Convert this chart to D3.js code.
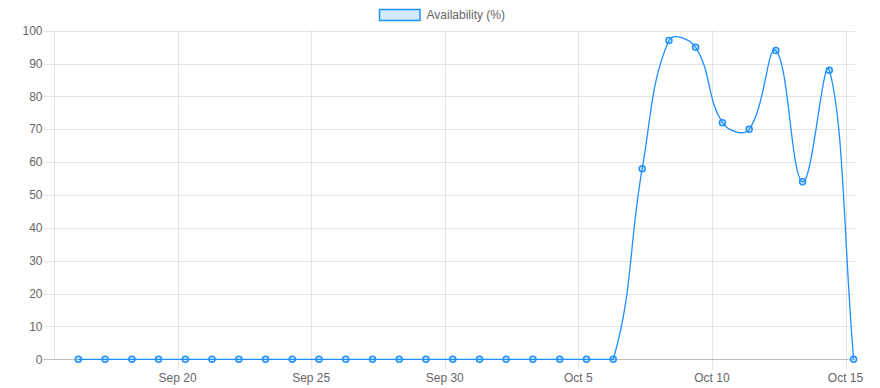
<!DOCTYPE html>
<html>
<head>
<meta charset="utf-8">
<script src="https://cdn.jsdelivr.net/npm/d3@7"></script>
<style>
  body { margin: 0; background: #fff; }
  text { font-family: "Liberation Sans", Arial, sans-serif; font-size: 12px; fill: #666; }
</style>
</head>
<body>
<svg id="grafica"></svg>
<script>
// Disponibilidad diaria (%), hora aproximada de cada medición
const momentos = ["2023-09-16 06:50","2023-09-17 06:50","2023-09-18 06:55","2023-09-19 06:55",
  "2023-09-20 06:55","2023-09-21 06:55","2023-09-22 07:00","2023-09-23 07:00","2023-09-24 07:00",
  "2023-09-25 07:00","2023-09-26 07:05","2023-09-27 07:05","2023-09-28 07:05","2023-09-29 07:05",
  "2023-09-30 07:10","2023-10-01 07:10","2023-10-02 07:10","2023-10-03 07:10","2023-10-04 07:15",
  "2023-10-05 07:15","2023-10-06 07:20","2023-10-07 09:20","2023-10-08 09:20","2023-10-09 09:20",
  "2023-10-10 09:25","2023-10-11 09:25","2023-10-12 09:25","2023-10-13 09:25","2023-10-14 09:25",
  "2023-10-15 07:15"];
const disponibilidad = [0,0,0,0,0,0,0,0,0,0,0,0,0,0,0,0,0,0,0,0,0,58,97,95,72,70,94,54,88,0];
const y_ticks = [0,10,20,30,40,50,60,70,80,90,100];
const x_ticks = ["2023-09-20 00:00","2023-09-25 00:00","2023-09-30 00:00","2023-10-05 00:00","2023-10-10 00:00","2023-10-15 00:00"];
const x_limites = ["2023-09-15 08:30","2023-10-15 08:30"];
const etiqueta = "Availability (%)";

const svg_w = 880;
const svg_h = 388;
const margin = {l:53.5, r:25, t:30.7, b:28.7};
const viz_w = svg_w - margin.l - margin.r;
const viz_h = svg_h - margin.t - margin.b;

const color = "#1e90ff";
const relleno = "rgba(30,144,255,0.2)";
const grid = "rgba(0,0,0,0.1)";

const parse = d3.timeParse("%Y-%m-%d %H:%M");
const datos = momentos.map((d,i) => ({t: parse(d), v: disponibilidad[i]}));

let svg = d3.select("#grafica")
  .attr("width", svg_w)
  .attr("height", svg_h);

let x_scale = d3.scaleTime()
  .domain(x_limites.map(parse))
  .range([margin.l, margin.l + viz_w]);

let y_scale = d3.scaleLinear()
  .domain([0,100])
  .range([margin.t + viz_h, margin.t]);

// rejilla horizontal
svg.append("g")
  .selectAll("line")
  .data(y_ticks)
  .enter().append("line")
  .attr("x1", margin.l - 10)
  .attr("x2", margin.l + viz_w)
  .attr("y1", d => Math.round(y_scale(d)) + 0.5)
  .attr("y2", d => Math.round(y_scale(d)) + 0.5)
  .attr("stroke", d => d == 0 ? "rgba(0,0,0,0.25)" : grid);

// rejilla vertical
svg.append("g")
  .selectAll("line")
  .data(x_ticks)
  .enter().append("line")
  .attr("x1", d => Math.round(x_scale(parse(d))) + 0.5)
  .attr("x2", d => Math.round(x_scale(parse(d))) + 0.5)
  .attr("y1", margin.t)
  .attr("y2", margin.t + viz_h + 10)
  .attr("stroke", grid);

// borde izquierdo
svg.append("line")
  .attr("x1", Math.round(margin.l) + 0.5)
  .attr("x2", Math.round(margin.l) + 0.5)
  .attr("y1", margin.t)
  .attr("y2", margin.t + viz_h)
  .attr("stroke", grid);

// etiquetas
svg.append("g")
  .selectAll("text")
  .data(y_ticks)
  .enter().append("text")
  .attr("x", margin.l - 11)
  .attr("y", d => y_scale(d))
  .attr("dy", "0.35em")
  .attr("text-anchor", "end")
  .text(d => d);

svg.append("g")
  .selectAll("text")
  .data(x_ticks)
  .enter().append("text")
  .attr("x", d => x_scale(parse(d)))
  .attr("y", margin.t + viz_h + 18)
  .attr("dy", "0.35em")
  .attr("text-anchor", "middle")
  .text(d => d3.timeFormat("%b %-d")(parse(d)));

// curva tipo Chart.js (tensión 0.4)
let pts = datos.map(d => ({x: x_scale(d.t), y: y_scale(d.v)}));
const tension = 0.4;
const cap = (v,a,b) => Math.max(a, Math.min(b, v));
pts.forEach((p,i) => {
  let p0 = pts[i-1] || p;
  let p2 = pts[i+1] || p;
  let d01 = Math.hypot(p.x-p0.x, p.y-p0.y);
  let d12 = Math.hypot(p2.x-p.x, p2.y-p.y);
  let s01 = d01/(d01+d12) || 0;
  let s12 = d12/(d01+d12) || 0;
  let fa = tension*s01, fb = tension*s12;
  p.cpx1 = cap(p.x - fa*(p2.x-p0.x), margin.l, margin.l+viz_w);
  p.cpy1 = cap(p.y - fa*(p2.y-p0.y), margin.t, margin.t+viz_h);
  p.cpx2 = cap(p.x + fb*(p2.x-p0.x), margin.l, margin.l+viz_w);
  p.cpy2 = cap(p.y + fb*(p2.y-p0.y), margin.t, margin.t+viz_h);
});
let path = d3.path();
path.moveTo(pts[0].x, pts[0].y);
for (let i = 1; i < pts.length; i++) {
  path.bezierCurveTo(pts[i-1].cpx2, pts[i-1].cpy2, pts[i].cpx1, pts[i].cpy1, pts[i].x, pts[i].y);
}
svg.append("path")
  .attr("d", path.toString())
  .attr("fill", "none")
  .attr("stroke", color)
  .attr("stroke-width", 1.3);

svg.append("g")
  .selectAll("circle")
  .data(datos)
  .enter().append("circle")
  .attr("cx", d => x_scale(d.t))
  .attr("cy", d => y_scale(d.v))
  .attr("r", 3)
  .attr("fill", relleno)
  .attr("stroke", color)
  .attr("stroke-width", 1.5);

// leyenda
let leyenda = svg.append("g");
let txt = leyenda.append("text")
  .attr("y", 15)
  .attr("dy", "0.35em")
  .text(etiqueta);
let tw = txt.node().getComputedTextLength();
let lx = Math.round((svg_w - (46 + tw)) / 2) + 1.5;
leyenda.append("rect")
  .attr("x", lx)
  .attr("y", 9.5)
  .attr("width", 40.5)
  .attr("height", 11)
  .attr("fill", relleno)
  .attr("stroke", color)
  .attr("stroke-width", 1.5);
txt.attr("x", lx + 47);
</script>
</body>
</html>
